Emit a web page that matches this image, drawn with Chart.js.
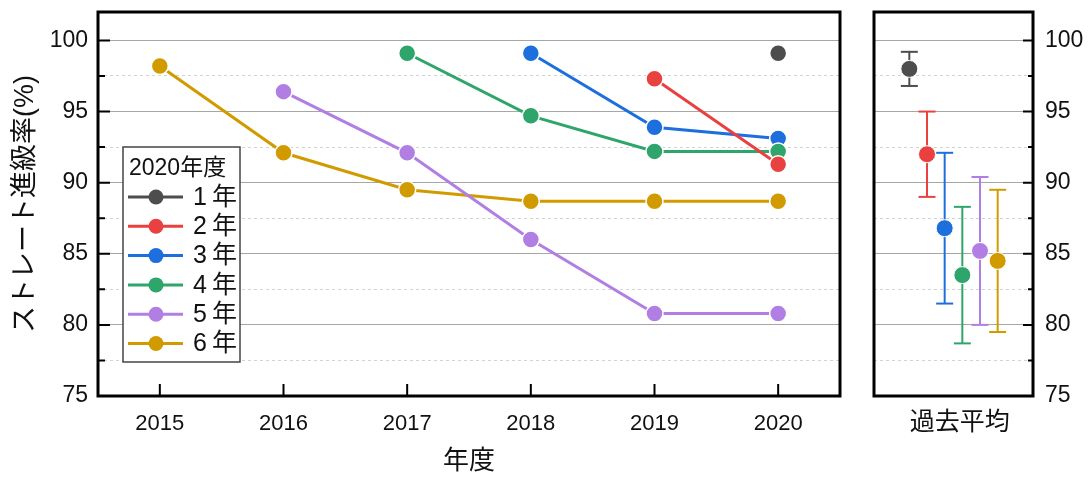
<!DOCTYPE html>
<html><head><meta charset="utf-8">
<script src="https://cdn.jsdelivr.net/npm/chart.js@4"></script>
<style>
html,body{margin:0;padding:0;background:#fff;}
#wrap{position:relative;width:1090px;height:479px;overflow:hidden;background:#fff;}
#cL{position:absolute;left:0;top:0;}
#cR{position:absolute;left:850px;top:0;}
</style></head>
<body><div id="wrap"><canvas id="cL" width="850" height="479"></canvas><canvas id="cR" width="240" height="479"></canvas></div>
<script>
// ---- data ----
const years = ['2015','2016','2017','2018','2019','2020'];
const grades = ['1年','2年','3年','4年','5年','6年'];
const legendTitle = '2020年度';
const g1 = [null, null, null, null, null, 99.1];
const g2 = [null, null, null, null, 97.3, 91.3];
const g3 = [null, null, null, 99.1, 93.9, 93.1];
const g4 = [null, null, 99.1, 94.7, 92.2, 92.2];
const g5 = [null, 96.4, 92.1, 86.0, 80.8, 80.8];
const g6 = [98.2, 92.1, 89.5, 88.7, 88.7, 88.7];
const avgLabel = ['過去平均'];
const avgMean = [98.0, 92.0, 86.8, 83.5, 85.2, 84.5];
const avgErr  = [1.2, 3.0, 5.3, 4.8, 5.2, 5.0];
const yTicks = [75, 80, 85, 90, 95, 100];
const yMinorTicks = [77.5, 82.5, 87.5, 92.5, 97.5];

// ---- style ----
const colors = ['#4d4d4d', '#e8413f', '#1d6fdd', '#2ea56a', '#b17fe3', '#d19b00'];
const drawOrder = [0, 1, 3, 2, 4, 5];
const series = [g1, g2, g3, g4, g5, g6];
const FONT = "'Liberation Sans', 'Noto Sans CJK JP', sans-serif";
const TXT = '#111';
const Y_MIN = 75, Y_MAX = 102;

function noPad(s) { s.paddingTop = 0; s.paddingBottom = 0; s.paddingLeft = 0; s.paddingRight = 0; }

function framePlugin(side) {
  return {
    id: 'frame_' + side,
    afterDraw(chart) {
      const {ctx, chartArea: a, scales} = chart;
      const ys = scales.y;
      ctx.save();
      ctx.strokeStyle = '#000';
      ctx.lineWidth = 2;
      ctx.beginPath();
      if (side === 'left') {
        yTicks.forEach(v => { const p = ys.getPixelForValue(v); ctx.moveTo(a.left, p); ctx.lineTo(a.left + 12, p); });
        yMinorTicks.forEach(v => { const p = ys.getPixelForValue(v); ctx.moveTo(a.left, p); ctx.lineTo(a.left + 7, p); });
        years.forEach((_, i) => { const p = scales.x.getPixelForValue(i); ctx.moveTo(p, a.bottom); ctx.lineTo(p, a.bottom - 12); });
      } else {
        yTicks.forEach(v => { const p = ys.getPixelForValue(v); ctx.moveTo(a.right, p); ctx.lineTo(a.right - 10, p); });
        yMinorTicks.forEach(v => { const p = ys.getPixelForValue(v); ctx.moveTo(a.right, p); ctx.lineTo(a.right - 5, p); });
      }
      ctx.stroke();
      ctx.lineWidth = 3;
      ctx.strokeRect(a.left, a.top, a.right - a.left, a.bottom - a.top);
      ctx.restore();
    }
  };
}

const legendPlugin = {
  id: 'gradeLegend',
  afterDatasetsDraw(chart) {
    const {ctx, chartArea: a} = chart;
    const x0 = a.left + 25, y0 = a.top + 135, w = 117, h = 215;
    ctx.save();
    ctx.fillStyle = '#fff';
    ctx.fillRect(x0, y0, w, h);
    ctx.strokeStyle = '#444';
    ctx.lineWidth = 1.5;
    ctx.strokeRect(x0, y0, w, h);
    ctx.fillStyle = TXT;
    ctx.textBaseline = 'middle';
    ctx.textAlign = 'left';
    ctx.font = '23px ' + FONT;
    ctx.fillText(legendTitle, x0 + 6, y0 + 22);
    chart.data.datasets.forEach((ds, i) => {
      const cy = y0 + 50 + i * 29.3;
      ctx.strokeStyle = ds.borderColor;
      ctx.lineWidth = 3;
      ctx.beginPath();
      ctx.moveTo(x0 + 5, cy); ctx.lineTo(x0 + 60, cy);
      ctx.stroke();
      ctx.fillStyle = ds.borderColor;
      ctx.beginPath();
      ctx.arc(x0 + 33, cy, 7.5, 0, Math.PI * 2);
      ctx.fill();
      ctx.fillStyle = TXT;
      ctx.font = '25px ' + FONT;
      try { ctx.letterSpacing = '5px'; } catch (e) {}
      ctx.fillText(ds.label, x0 + 70, cy + 1);
      try { ctx.letterSpacing = '0px'; } catch (e) {}
    });
    ctx.restore();
  }
};

const minorAxis = (pos) => ({
  type: 'linear', position: pos, min: Y_MIN, max: Y_MAX,
  afterBuildTicks(s) { s.ticks = yMinorTicks.map(v => ({value: v})); },
  ticks: {display: false},
  grid: {color: '#d2d2d2', lineWidth: 1, drawTicks: false},
  border: {display: false, dash: [3, 3]},
  afterFit(s) { s.width = 0; noPad(s); }
});

// ---- left chart ----
new Chart(document.getElementById('cL'), {
  type: 'line',
  data: {
    labels: years,
    datasets: grades.map((g, i) => ({
      label: g,
      data: series[i],
      borderColor: colors[i],
      backgroundColor: colors[i],
      pointBackgroundColor: colors[i],
      pointBorderColor: '#fff',
      pointBorderWidth: 1.5,
      pointRadius: 8.5,
      borderWidth: 3,
      tension: 0,
      order: drawOrder[i]
    }))
  },
  options: {
    responsive: false, animation: false, events: [],
    layout: {padding: {top: 12, right: 10, left: 0, bottom: 0}},
    plugins: {legend: {display: false}, tooltip: {enabled: false}},
    scales: {
      x: {
        type: 'category', offset: true,
        grid: {display: false, drawTicks: false},
        border: {display: false},
        ticks: {color: TXT, font: {family: FONT, size: 22}, padding: 15, maxRotation: 0},
        title: {display: true, text: '年度', color: TXT, font: {family: FONT, size: 26}, padding: {top: 0, bottom: 2}},
        afterFit(s) { s.height = 83; noPad(s); }
      },
      y: {
        type: 'linear', position: 'left', min: Y_MIN, max: Y_MAX,
        afterBuildTicks(s) { s.ticks = yTicks.map(v => ({value: v})); },
        grid: {color: '#a6a6a6', lineWidth: 1, drawTicks: false},
        border: {display: false},
        ticks: {color: TXT, font: {family: FONT, size: 23}, padding: 10},
        title: {display: true, text: 'ストレート進級率(%)', color: TXT, font: {family: FONT, size: 27}, padding: {top: 9, bottom: 0}},
        afterFit(s) { s.width = 98; noPad(s); }
      },
      yMinor: minorAxis('left')
    }
  },
  plugins: [legendPlugin, framePlugin('left')]
});

// ---- right chart ----
const AVG_LABEL_POS = 4.85;
const errDatasets = avgMean.map((m, i) => ({
  type: 'line',
  data: [{x: i + 2, y: m - avgErr[i]}, {x: i + 2, y: m + avgErr[i]}],
  borderColor: colors[i],
  borderWidth: 2,
  pointStyle: 'line',
  pointRadius: 8.5,
  pointBorderColor: colors[i],
  pointBorderWidth: 2,
  order: 10
}));
const meanDatasets = avgMean.map((m, i) => ({
  type: 'scatter',
  data: [{x: i + 2, y: m}],
  pointBackgroundColor: colors[i],
  pointBorderColor: '#fff',
  pointBorderWidth: 1,
  pointRadius: 8.5,
  order: 0
}));
new Chart(document.getElementById('cR'), {
  type: 'scatter',
  data: {datasets: errDatasets.concat(meanDatasets)},
  options: {
    responsive: false, animation: false, events: [],
    layout: {padding: {top: 12, right: 0, left: 24, bottom: 0}},
    plugins: {legend: {display: false}, tooltip: {enabled: false}},
    scales: {
      x: {
        type: 'linear', min: 0, max: 9,
        afterBuildTicks(s) { s.ticks = [{value: AVG_LABEL_POS}]; },
        grid: {display: false, drawTicks: false},
        border: {display: false},
        ticks: {color: TXT, font: {family: FONT, size: 25}, padding: 12, maxRotation: 0, callback: () => avgLabel[0]},
        afterFit(s) { s.height = 83; noPad(s); }
      },
      y: {
        type: 'linear', position: 'right', min: Y_MIN, max: Y_MAX,
        afterBuildTicks(s) { s.ticks = yTicks.map(v => ({value: v})); },
        grid: {color: '#a6a6a6', lineWidth: 1, drawTicks: false},
        border: {display: false},
        ticks: {color: TXT, font: {family: FONT, size: 23}, padding: 12},
        afterFit(s) { s.width = 57; noPad(s); }
      },
      yMinor: minorAxis('right')
    }
  },
  plugins: [framePlugin('right')]
});
</script></body></html>
